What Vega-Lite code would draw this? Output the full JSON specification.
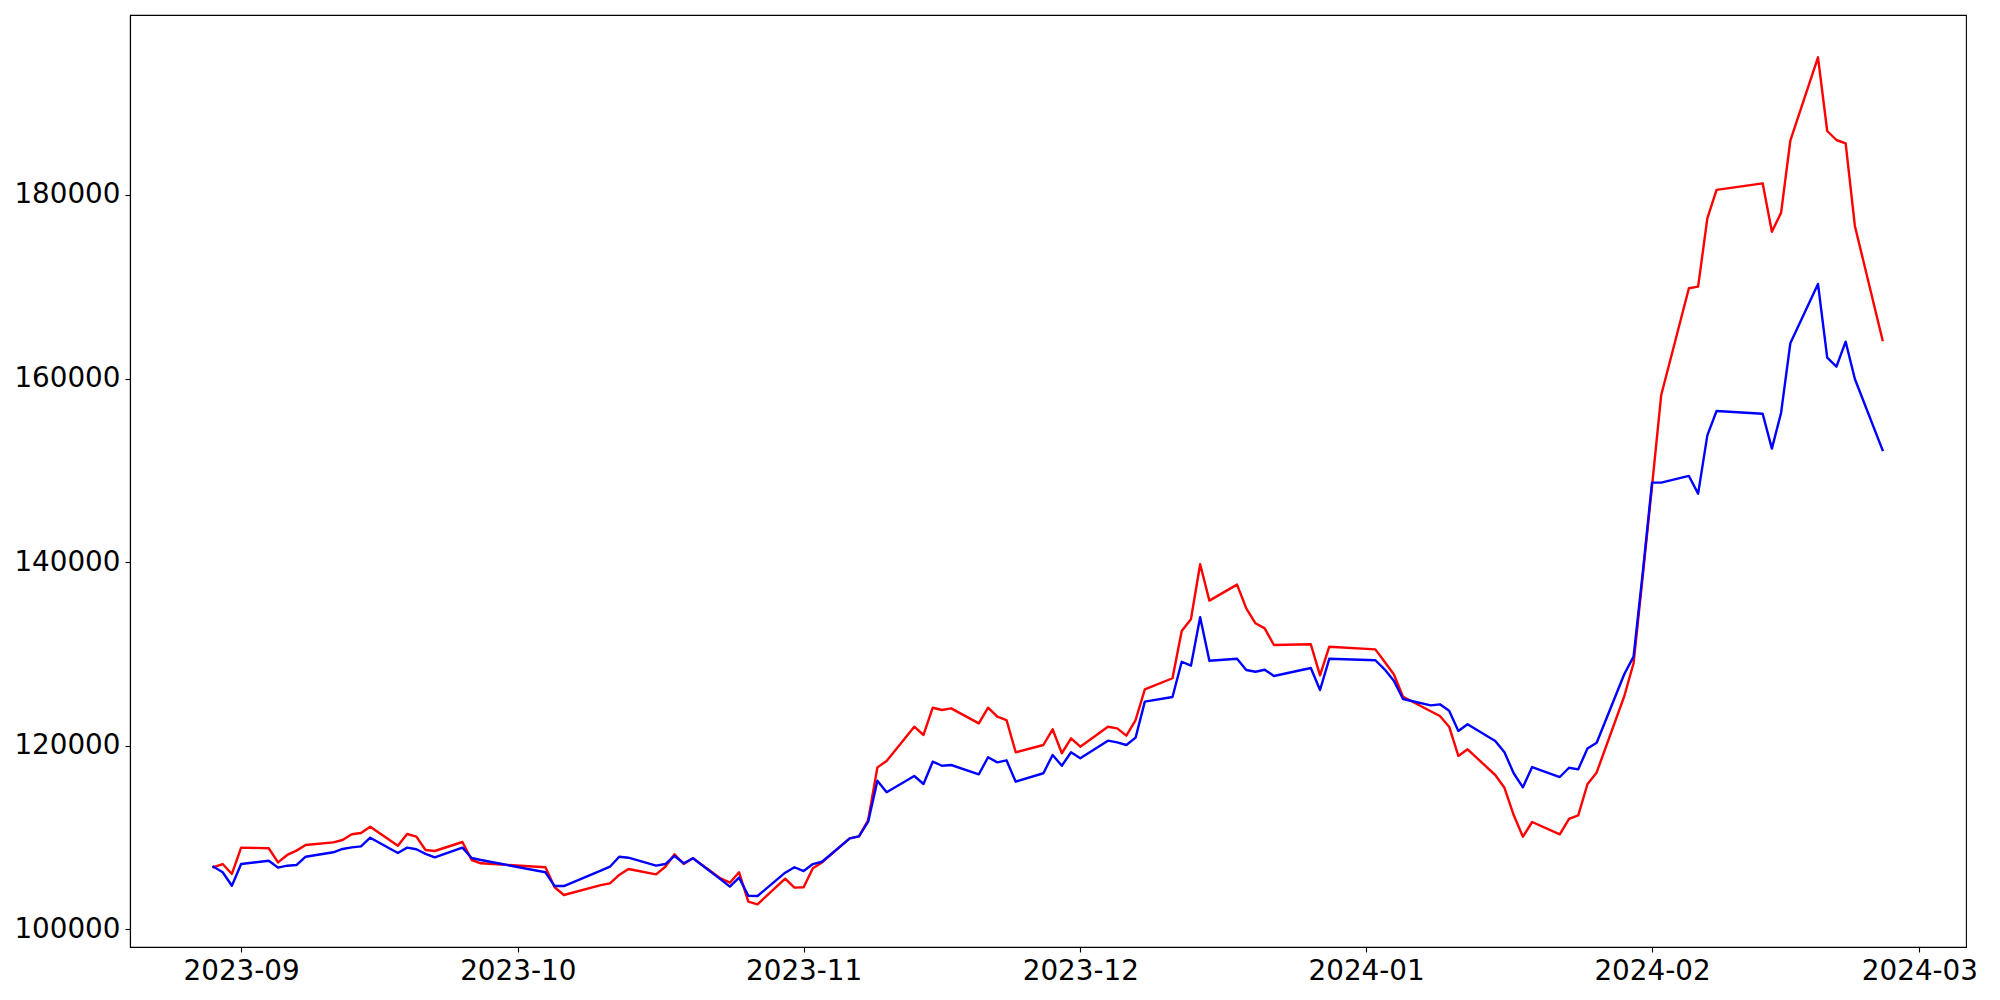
{
  "$schema": "https://vega.github.io/schema/vega-lite/v6.json",
  "width": 1836,
  "height": 932,
  "autosize": "none",
  "padding": {"left": 130, "top": 15, "right": 34, "bottom": 53},
  "background": "white",
  "config": {
    "view": {"stroke": "black", "strokeWidth": 1.1},
    "axis": {
      "domainColor": "black", "domainWidth": 1.1,
      "tickColor": "black", "tickWidth": 1.1, "tickSize": 5,
      "labelColor": "black", "labelFont": "DejaVu Sans", "labelFontSize": 27.8,
      "labelPadding": 5, "grid": false, "labelOverlap": false, "labelFlush": false
    }
  },
  "data": {"values": [
    {"date": "2023-08-29", "line1": 106760, "line2": 106820},
    {"date": "2023-08-30", "line1": 107110, "line2": 106210},
    {"date": "2023-08-31", "line1": 106030, "line2": 104750},
    {"date": "2023-09-01", "line1": 108900, "line2": 107110},
    {"date": "2023-09-04", "line1": 108830, "line2": 107470},
    {"date": "2023-09-05", "line1": 107290, "line2": 106720},
    {"date": "2023-09-06", "line1": 108100, "line2": 106930},
    {"date": "2023-09-07", "line1": 108570, "line2": 107000},
    {"date": "2023-09-08", "line1": 109180, "line2": 107910},
    {"date": "2023-09-11", "line1": 109470, "line2": 108390},
    {"date": "2023-09-12", "line1": 109730, "line2": 108750},
    {"date": "2023-09-13", "line1": 110350, "line2": 108930},
    {"date": "2023-09-14", "line1": 110490, "line2": 109040},
    {"date": "2023-09-15", "line1": 111180, "line2": 109980},
    {"date": "2023-09-18", "line1": 109110, "line2": 108320},
    {"date": "2023-09-19", "line1": 110380, "line2": 108900},
    {"date": "2023-09-20", "line1": 110090, "line2": 108720},
    {"date": "2023-09-21", "line1": 108640, "line2": 108210},
    {"date": "2023-09-22", "line1": 108530, "line2": 107840},
    {"date": "2023-09-25", "line1": 109510, "line2": 108900},
    {"date": "2023-09-26", "line1": 107550, "line2": 107770},
    {"date": "2023-09-27", "line1": 107190, "line2": 107550},
    {"date": "2023-10-04", "line1": 106760, "line2": 106210},
    {"date": "2023-10-05", "line1": 104580, "line2": 104710},
    {"date": "2023-10-06", "line1": 103740, "line2": 104710},
    {"date": "2023-10-10", "line1": 104820, "line2": 106390},
    {"date": "2023-10-11", "line1": 105010, "line2": 106820},
    {"date": "2023-10-12", "line1": 105920, "line2": 107910},
    {"date": "2023-10-13", "line1": 106570, "line2": 107800},
    {"date": "2023-10-16", "line1": 105990, "line2": 106930},
    {"date": "2023-10-17", "line1": 106820, "line2": 107110},
    {"date": "2023-10-18", "line1": 108170, "line2": 107990},
    {"date": "2023-10-19", "line1": 107110, "line2": 107190},
    {"date": "2023-10-20", "line1": 107740, "line2": 107740},
    {"date": "2023-10-23", "line1": 105550, "line2": 105440},
    {"date": "2023-10-24", "line1": 105080, "line2": 104650},
    {"date": "2023-10-25", "line1": 106210, "line2": 105630},
    {"date": "2023-10-26", "line1": 103010, "line2": 103660},
    {"date": "2023-10-27", "line1": 102720, "line2": 103630},
    {"date": "2023-10-30", "line1": 105510, "line2": 106170},
    {"date": "2023-10-31", "line1": 104540, "line2": 106760},
    {"date": "2023-11-01", "line1": 104580, "line2": 106350},
    {"date": "2023-11-02", "line1": 106650, "line2": 107110},
    {"date": "2023-11-03", "line1": 107290, "line2": 107360},
    {"date": "2023-11-06", "line1": 109910, "line2": 109910},
    {"date": "2023-11-07", "line1": 110130, "line2": 110130},
    {"date": "2023-11-08", "line1": 111910, "line2": 111720},
    {"date": "2023-11-09", "line1": 117640, "line2": 116190},
    {"date": "2023-11-10", "line1": 118340, "line2": 114930},
    {"date": "2023-11-13", "line1": 122070, "line2": 116700},
    {"date": "2023-11-14", "line1": 121170, "line2": 115830},
    {"date": "2023-11-15", "line1": 124140, "line2": 118260},
    {"date": "2023-11-16", "line1": 123890, "line2": 117820},
    {"date": "2023-11-17", "line1": 124070, "line2": 117900},
    {"date": "2023-11-20", "line1": 122440, "line2": 116890},
    {"date": "2023-11-21", "line1": 124140, "line2": 118740},
    {"date": "2023-11-22", "line1": 123160, "line2": 118190},
    {"date": "2023-11-23", "line1": 122800, "line2": 118410},
    {"date": "2023-11-24", "line1": 119290, "line2": 116080},
    {"date": "2023-11-27", "line1": 120080, "line2": 117000},
    {"date": "2023-11-28", "line1": 121790, "line2": 118990},
    {"date": "2023-11-29", "line1": 119180, "line2": 117820},
    {"date": "2023-11-30", "line1": 120810, "line2": 119290},
    {"date": "2023-12-01", "line1": 119890, "line2": 118630},
    {"date": "2023-12-04", "line1": 122070, "line2": 120550},
    {"date": "2023-12-05", "line1": 121890, "line2": 120370},
    {"date": "2023-12-06", "line1": 121100, "line2": 120080},
    {"date": "2023-12-07", "line1": 122800, "line2": 120880},
    {"date": "2023-12-08", "line1": 126140, "line2": 124800},
    {"date": "2023-12-11", "line1": 127350, "line2": 125310},
    {"date": "2023-12-12", "line1": 132500, "line2": 129150},
    {"date": "2023-12-13", "line1": 133780, "line2": 128720},
    {"date": "2023-12-14", "line1": 139770, "line2": 134000},
    {"date": "2023-12-15", "line1": 135810, "line2": 129260},
    {"date": "2023-12-18", "line1": 137550, "line2": 129480},
    {"date": "2023-12-19", "line1": 134970, "line2": 128250},
    {"date": "2023-12-20", "line1": 133340, "line2": 128060},
    {"date": "2023-12-21", "line1": 132790, "line2": 128280},
    {"date": "2023-12-22", "line1": 130970, "line2": 127600},
    {"date": "2023-12-26", "line1": 131050, "line2": 128470},
    {"date": "2023-12-27", "line1": 127670, "line2": 126070},
    {"date": "2023-12-28", "line1": 130790, "line2": 129470},
    {"date": "2024-01-02", "line1": 130500, "line2": 129310},
    {"date": "2024-01-03", "line1": 129150, "line2": 128320},
    {"date": "2024-01-04", "line1": 127790, "line2": 127090},
    {"date": "2024-01-05", "line1": 125340, "line2": 125090},
    {"date": "2024-01-08", "line1": 123760, "line2": 124400},
    {"date": "2024-01-09", "line1": 123240, "line2": 124510},
    {"date": "2024-01-10", "line1": 122070, "line2": 123810},
    {"date": "2024-01-11", "line1": 118890, "line2": 121610},
    {"date": "2024-01-12", "line1": 119610, "line2": 122330},
    {"date": "2024-01-15", "line1": 116810, "line2": 120520},
    {"date": "2024-01-16", "line1": 115420, "line2": 119290},
    {"date": "2024-01-17", "line1": 112450, "line2": 117000},
    {"date": "2024-01-18", "line1": 110090, "line2": 115470},
    {"date": "2024-01-19", "line1": 111690, "line2": 117680},
    {"date": "2024-01-22", "line1": 110350, "line2": 116590},
    {"date": "2024-01-23", "line1": 112020, "line2": 117600},
    {"date": "2024-01-24", "line1": 112420, "line2": 117430},
    {"date": "2024-01-25", "line1": 115800, "line2": 119690},
    {"date": "2024-01-26", "line1": 117090, "line2": 120330},
    {"date": "2024-01-29", "line1": 125420, "line2": 127820},
    {"date": "2024-01-30", "line1": 128980, "line2": 129700},
    {"date": "2024-01-31", "line1": 138530, "line2": 138890},
    {"date": "2024-02-01", "line1": 148250, "line2": 148660},
    {"date": "2024-02-02", "line1": 158210, "line2": 148660},
    {"date": "2024-02-05", "line1": 169840, "line2": 149390},
    {"date": "2024-02-06", "line1": 170010, "line2": 147460},
    {"date": "2024-02-07", "line1": 177460, "line2": 153810},
    {"date": "2024-02-08", "line1": 180550, "line2": 156470},
    {"date": "2024-02-13", "line1": 181270, "line2": 156160},
    {"date": "2024-02-14", "line1": 176000, "line2": 152370},
    {"date": "2024-02-15", "line1": 178070, "line2": 156280},
    {"date": "2024-02-16", "line1": 185910, "line2": 163850},
    {"date": "2024-02-19", "line1": 195000, "line2": 170310},
    {"date": "2024-02-20", "line1": 186970, "line2": 162270},
    {"date": "2024-02-21", "line1": 185990, "line2": 161300},
    {"date": "2024-02-22", "line1": 185630, "line2": 164020},
    {"date": "2024-02-23", "line1": 176630, "line2": 159950},
    {"date": "2024-02-26", "line1": 164200, "line2": 152220}
  ]},
  "encoding": {
    "x": {
      "field": "date", "type": "temporal", "title": null,
      "scale": {
        "type": "utc",
        "domain": [
          {"year": 2023, "month": 8, "date": 19, "hours": 22, "minutes": 48, "utc": true},
          {"year": 2024, "month": 3, "date": 6, "hours": 1, "minutes": 12, "utc": true}
        ]
      },
      "axis": {
        "format": "%Y-%m",
        "values": [
          {"year": 2023, "month": 9, "date": 1, "utc": true},
          {"year": 2023, "month": 10, "date": 1, "utc": true},
          {"year": 2023, "month": 11, "date": 1, "utc": true},
          {"year": 2023, "month": 12, "date": 1, "utc": true},
          {"year": 2024, "month": 1, "date": 1, "utc": true},
          {"year": 2024, "month": 2, "date": 1, "utc": true},
          {"year": 2024, "month": 3, "date": 1, "utc": true}
        ]
      }
    }
  },
  "layer": [
    {
      "mark": {"type": "line", "color": "#ff0000", "strokeWidth": 2.4, "strokeJoin": "round", "strokeCap": "square"},
      "encoding": {
        "y": {
          "field": "line1", "type": "quantitative", "title": null,
          "scale": {"domain": [98072, 199608], "nice": false, "zero": false},
          "axis": {"values": [100000, 120000, 140000, 160000, 180000], "format": "d"}
        }
      }
    },
    {
      "mark": {"type": "line", "color": "#0000ff", "strokeWidth": 2.4, "strokeJoin": "round", "strokeCap": "square"},
      "encoding": {
        "y": {
          "field": "line2", "type": "quantitative", "title": null,
          "scale": {"domain": [98072, 199608], "nice": false, "zero": false},
          "axis": {"values": [100000, 120000, 140000, 160000, 180000], "format": "d"}
        }
      }
    }
  ]
}
